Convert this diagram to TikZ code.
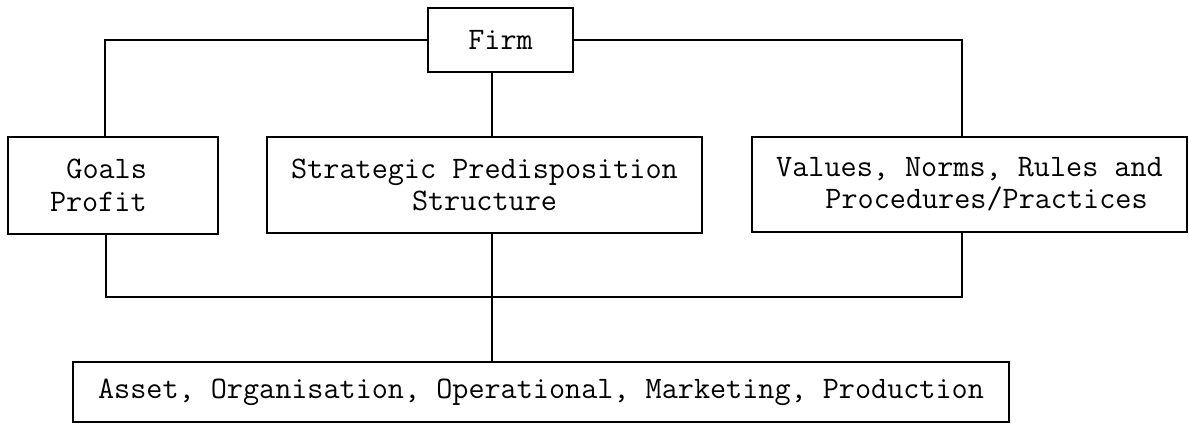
\documentclass[tikz,border=0pt]{standalone}
\usetikzlibrary{positioning}
\tikzset{block/.style={draw,inner sep=0pt,font=\fontsize{17.8}{18.4}\selectfont\ttfamily}}

\begin{document}
\begin{tikzpicture}[x=0.02cm,y=-0.02cm,line width=1pt]
\useasboundingbox (0,0) rectangle (1189,424);
\node[block,minimum width=2.9cm,minimum height=1.28cm](firm) at (500.5,40){Firm};
\node[block,align=left,text width=2.52cm,inner xsep=0.84cm,minimum height=1.94cm](goals) at (113,185.5){\hspace*{0.525em}Goals\\Profit};
\node[block,align=center,minimum width=8.7cm,minimum height=1.92cm](strat) at (484.5,185){Strategic Predisposition\\Structure};
\node[block,align=left,minimum width=8.7cm,minimum height=1.9cm](values) at (969.5,184.5){Values, Norms, Rules and\\\hspace*{1.575em}Procedures/Practices};
\node[block,minimum width=18.72cm,minimum height=1.2cm](assets) at (541,392){Asset, Organisation, Operational, Marketing, Production};
\coordinate(tl) at (105,40);
\coordinate(tr) at (962,40);
\coordinate(bl) at (106,297);
\coordinate(br) at (962,297);
\coordinate(axis) at (492,0);
\draw(firm.west) -- (tl) -- (tl |- goals.north);
\draw(firm.east) -- (tr) -- (tr |- values.north);
\draw(firm.south -| axis) -- (strat.north -| axis);
\draw(goals.south -| bl) -- (bl) -- (br) -- (values.south -| br);
\draw(strat.south -| axis) -- (assets.north -| axis);
\end{tikzpicture}
\end{document}
